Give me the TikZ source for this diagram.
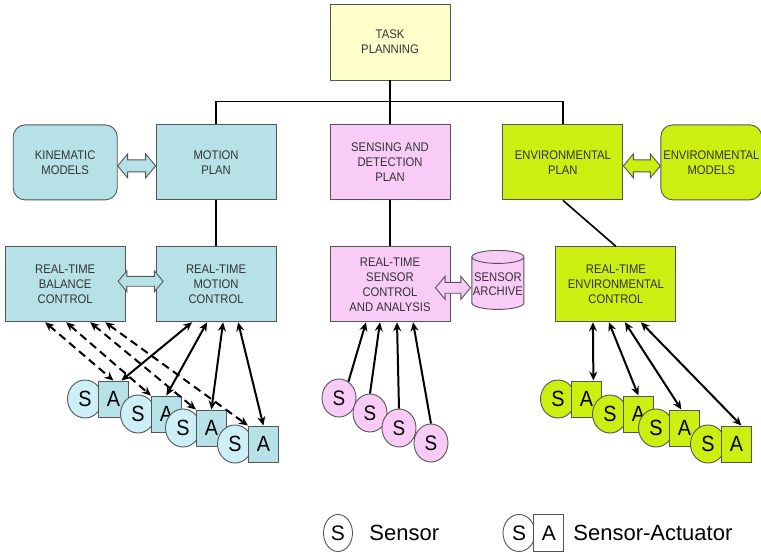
\documentclass[tikz,border=0pt]{standalone}
\usepackage{fontspec}
\setmainfont{Liberation Sans}
\newfontfamily\boxfont[FakeStretch=0.9]{Liberation Sans}
\usetikzlibrary{arrows.meta,positioning,shapes,calc}
\usepackage{xcolor}
\definecolor{taskyellow}{HTML}{FFFFCC}
\definecolor{motionblue}{HTML}{B6E1E7}
\definecolor{salight}{HTML}{CDEFF7}
\definecolor{sensepink}{HTML}{F9CBF7}
\definecolor{envgreen}{HTML}{CCEE11}
\definecolor{edgegray}{HTML}{555555}

\begin{document}
\begin{tikzpicture}[x=1pt,y=-1pt,>={Stealth[length=9pt,width=8pt]},
      main node/.style={rectangle,draw=edgegray,line width=0.9pt,text=black!80,
          font=\boxfont\fontsize{12.5}{15}\selectfont,align=center,
          minimum width=120pt,minimum height=75pt},
      model node/.style={main node,rounded corners=12pt},
      link arrow/.style={double arrow,draw=edgegray,line width=0.9pt,
          inner sep=5.5pt,minimum width=23pt,double arrow head extend=6pt,
          double arrow tip angle=100},
      archive node/.style={cylinder,shape border rotate=90,aspect=0.25,
          draw=edgegray,line width=0.9pt,fill=sensepink,text=black!80,
          font=\boxfont\fontsize{12.5}{14}\selectfont,align=center,inner sep=1pt,
          minimum width=51pt,minimum height=59pt},
      s node/.style={ellipse,draw=edgegray,line width=0.9pt,inner sep=0pt,
          minimum width=35pt,minimum height=38pt,
          font=\boxfont\fontsize{22}{22}\selectfont},
      a node/.style={rectangle,draw=edgegray,line width=0.9pt,inner sep=0pt,
          minimum width=30pt,minimum height=36pt,
          font=\boxfont\fontsize{22}{22}\selectfont},
      bus line/.style={line width=1.6pt},
      sa arrow/.style={<->,line width=2pt},
      sa dashed/.style={sa arrow,dash pattern=on 8pt off 5pt},
      sense arrow/.style={->,line width=2pt},
      legend node/.style={font=\fontsize{22}{22}\selectfont}]

    \useasboundingbox (0,0) rectangle (761,553);

    \node[main node,fill=taskyellow,minimum height=76pt] (tp) at (390,42) {TASK\\PLANNING};
    \node[main node,fill=sensepink] (sdp) [below=44pt of tp] {SENSING AND\\DETECTION\\PLAN};
    \node[main node,fill=motionblue] (mp) [left=53pt of sdp] {MOTION\\PLAN};
    \node[main node,fill=envgreen] (ep) [right=52pt of sdp] {ENVIRONMENTAL\\PLAN};
    \node[model node,fill=motionblue,minimum width=104pt] (km) [left=38pt of mp] {KINEMATIC\\MODELS};
    \node[model node,fill=envgreen,minimum width=101pt,inner xsep=2pt] (em) [right=37pt of ep] {ENVIRONMENTAL\\MODELS};

    \node[main node,fill=motionblue] (rtmc) [below=46pt of mp] {REAL-TIME\\MOTION\\CONTROL};
    \node[main node,fill=motionblue] (rtbc) [left=30pt of rtmc] {REAL-TIME\\BALANCE\\CONTROL};
    \node[main node,fill=sensepink] (rtsc) [below=46pt of sdp] {REAL-TIME\\SENSOR\\CONTROL\\AND ANALYSIS};
    \node[archive node] (arc) [right=21pt of rtsc] {SENSOR\\ARCHIVE};
    \node[main node,fill=envgreen] (rtec) [below=46pt of ep,xshift=53pt] {REAL-TIME\\ENVIRONMENTAL\\CONTROL};

    % two-way links between neighbouring boxes
    \node[link arrow,fill=motionblue,minimum height=38pt] (kmlink) at ($(km.east)!0.5!(mp.west)+(0,3.5)$) {};
    \node[link arrow,fill=envgreen,minimum height=37pt] (emlink) at ($(ep.east)!0.5!(em.west)+(0,3.5)$) {};
    \node[link arrow,fill=motionblue,minimum height=45pt,minimum width=20pt,
          inner sep=4.5pt,double arrow head extend=5.5pt] (bclink) at ($(rtbc.east)!0.5!(rtmc.west)+(0,-3)$) {};
    \node[link arrow,fill=sensepink,minimum height=35pt,minimum width=22pt,
          inner sep=5pt,double arrow head extend=6pt] (arclink) at ($(rtsc.east)+(2.5,3.5)$) {};

    \draw[bus line] (mp.north) -- ++(0,-23) -| (ep.north);
    \draw[bus line] (tp) -- (sdp);
    \draw[bus line] (mp) -- (rtmc);
    \draw[bus line] (sdp) -- (rtsc);
    \draw[bus line] (ep.south) -- (rtec.north);

    % motion sensor-actuators
    \node[s node,fill=salight] (ms1) at (85,399) {S};
    \node[a node,fill=motionblue] (ma1) [right=-5pt of ms1] {A};
    \node[s node,fill=salight] (ms2) at (138,414) {S};
    \node[a node,fill=motionblue] (ma2) [right=-5pt of ms2] {A};
    \node[s node,fill=salight] (ms3) at (183,428) {S};
    \node[a node,fill=motionblue] (ma3) [right=-5pt of ms3] {A};
    \node[s node,fill=salight] (ms4) at (235,444) {S};
    \node[a node,fill=motionblue] (ma4) [right=-5pt of ms4] {A};

    % sensors
    \node[s node,fill=sensepink,minimum width=34pt,font=\boxfont\fontsize{21}{21}\selectfont] (ss1) at (339,398) {S};
    \node[s node,fill=sensepink,minimum width=34pt,font=\boxfont\fontsize{21}{21}\selectfont] (ss2) at (370,413) {S};
    \node[s node,fill=sensepink,minimum width=34pt,font=\boxfont\fontsize{21}{21}\selectfont] (ss3) at (399,428) {S};
    \node[s node,fill=sensepink,minimum width=34pt,font=\boxfont\fontsize{21}{21}\selectfont] (ss4) at (431,443) {S};

    % environmental sensor-actuators
    \node[s node,fill=envgreen] (es1) at (558,399) {S};
    \node[a node,fill=envgreen] (ea1) [right=-5pt of es1] {A};
    \node[s node,fill=envgreen] (es2) at (610,414) {S};
    \node[a node,fill=envgreen] (ea2) [right=-5pt of es2] {A};
    \node[s node,fill=envgreen] (es3) at (656,428) {S};
    \node[a node,fill=envgreen] (ea3) [right=-5pt of es3] {A};
    \node[s node,fill=envgreen] (es4) at (708,444) {S};
    \node[a node,fill=envgreen] (ea4) [right=-5pt of es4] {A};

    \draw[sa dashed] ([xshift=-20pt]rtbc.south) -- (ma1.north);
    \draw[sa dashed] ([xshift=1pt]rtbc.south) -- (ma2.north west);
    \draw[sa dashed] ([xshift=25pt]rtbc.south) -- (ma3.north west);
    \draw[sa dashed] ([xshift=40pt]rtbc.south) -- (ma4.north west);

    \draw[sa arrow] ([xshift=-24pt]rtmc.south) -- ([xshift=8pt]ma1.north);
    \draw[sa arrow] ([xshift=-9pt]rtmc.south) -- (ma2.north);
    \draw[sa arrow] ([xshift=7pt]rtmc.south) -- (ma3.north);
    \draw[sa arrow] ([xshift=22pt]rtmc.south) -- (ma4.north);

    \draw[sense arrow] (ss1.60) -- ([xshift=-24pt]rtsc.south);
    \draw[sense arrow] (ss2.north) -- ([xshift=-10pt]rtsc.south);
    \draw[sense arrow] (ss3.north) -- ([xshift=7pt]rtsc.south);
    \draw[sense arrow] (ss4.north) -- ([xshift=23pt]rtsc.south);

    \draw[sa arrow] ([xshift=-23pt]rtec.south) -- ([xshift=7pt]ea1.north);
    \draw[sa arrow] ([xshift=-7pt]rtec.south) -- (ea2.north);
    \draw[sa arrow] ([xshift=9pt]rtec.south) -- ([xshift=-3pt]ea3.north);
    \draw[sa arrow] ([xshift=25pt]rtec.south) -- ([xshift=5pt]ea4.north);

    % legend
    \node[s node,fill=white,minimum width=29pt,minimum height=37pt,font=\fontsize{21}{21}\selectfont] (lgs) at (338,533) {S};
    \node[legend node] (lgstext) [right=13pt of lgs] {Sensor};
    \node[s node,fill=white,minimum width=32pt,minimum height=37pt,font=\fontsize{21}{21}\selectfont] (lgsas) at (519,533) {S};
    \node[a node,fill=white,minimum height=37pt,font=\fontsize{21}{21}\selectfont] (lgsaa) [right=-2pt of lgsas] {A};
    \node[legend node] (lgsatext) [right=5.5pt of lgsaa] {Sensor-Actuator};

  \end{tikzpicture}
\end{document}
